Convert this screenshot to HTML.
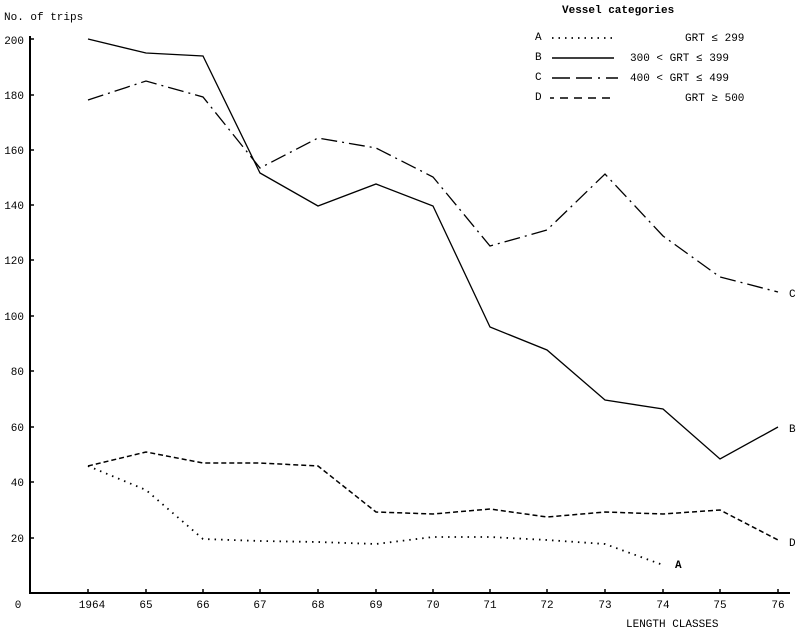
<!DOCTYPE html><html><head><style>body{margin:0;background:#fff}svg{display:block}text{font-family:"Liberation Mono",monospace;font-size:11px;fill:#000}</style></head><body>
<svg width="800" height="631" viewBox="0 0 800 631">
<g stroke="#000" fill="none">
<path d="M30 36V593H790" stroke-width="2"/>
<g stroke-width="1.5"><path d="M30 39h4M30 95h4M30 150h4M30 205h4M30 260h4M30 316h4M30 371h4M30 427h4M30 482h4M30 538h4"/>
<path d="M88 593v-4M146 593v-4M203 593v-4M260 593v-4M318 593v-4M376 593v-4M433 593v-4M490 593v-4M547 593v-4M605 593v-4M663 593v-4M720 593v-4M778 593v-4"/></g>
<polyline stroke-width="1.3" points="88,39 146,53 203,56 260,173 318,206 376,184 433,206 490,327 547,350 605,400 663,409 720,459 778,427"/>
<polyline stroke-width="1.3" stroke-dasharray="16,5,2,5" points="88,100 146,81 203,97 260,168 318,138 376,148 433,177 490,246 547,230 605,174 663,236 720,277 778,292"/>
<polyline stroke-width="1.5" stroke-dasharray="5,3" points="88,466 146,452 203,463 260,463 318,466 376,512 433,514 490,509 547,517 605,512 663,514 720,510 778,540"/>
<polyline stroke-width="1.8" stroke-dasharray="1.5,5" points="88,466 146,490 203,539 260,541 318,542 376,544 433,537 490,537 547,540 605,544 663,565"/>
<path d="M552 38h62" stroke-width="1.8" stroke-dasharray="1.5,5"/>
<path d="M552 58h62" stroke-width="1.5"/>
<path d="M552 78h18M576 78h16M598 78h2M606 78h12" stroke-width="1.5"/>
<path d="M550 98h4M560 98h8M574 98h8M588 98h8M602 98h8" stroke-width="1.5"/>
</g>
<g text-anchor="end"><text x="24" y="44">200</text><text x="24" y="99">180</text><text x="24" y="154">160</text><text x="24" y="209">140</text><text x="24" y="264">120</text><text x="24" y="320">100</text><text x="24" y="375">80</text><text x="24" y="431">60</text><text x="24" y="486">40</text><text x="24" y="542">20</text></g>
<g text-anchor="middle"><text x="18" y="608">0</text><text x="92" y="608">1964</text><text x="146" y="608">65</text><text x="203" y="608">66</text><text x="260" y="608">67</text><text x="318" y="608">68</text><text x="376" y="608">69</text><text x="433" y="608">70</text><text x="490" y="608">71</text><text x="547" y="608">72</text><text x="605" y="608">73</text><text x="663" y="608">74</text><text x="720" y="608">75</text><text x="778" y="608">76</text></g>
<text x="4" y="20">No. of trips</text>
<text x="626" y="627" font-size="10">LENGTH CLASSES</text>
<text x="562" y="13" font-weight="bold">Vessel categories</text>
<text x="535" y="40">A</text><text x="535" y="60">B</text><text x="535" y="80">C</text><text x="535" y="100">D</text>
<text x="685" y="41">GRT ≤ 299</text>
<text x="630" y="61">300 &lt; GRT ≤ 399</text>
<text x="630" y="81">400 &lt; GRT ≤ 499</text>
<text x="685" y="101">GRT ≥ 500</text>
<text x="789" y="297">C</text><text x="789" y="432">B</text><text x="789" y="546">D</text><text x="675" y="568" font-weight="bold">A</text>
</svg></body></html>
